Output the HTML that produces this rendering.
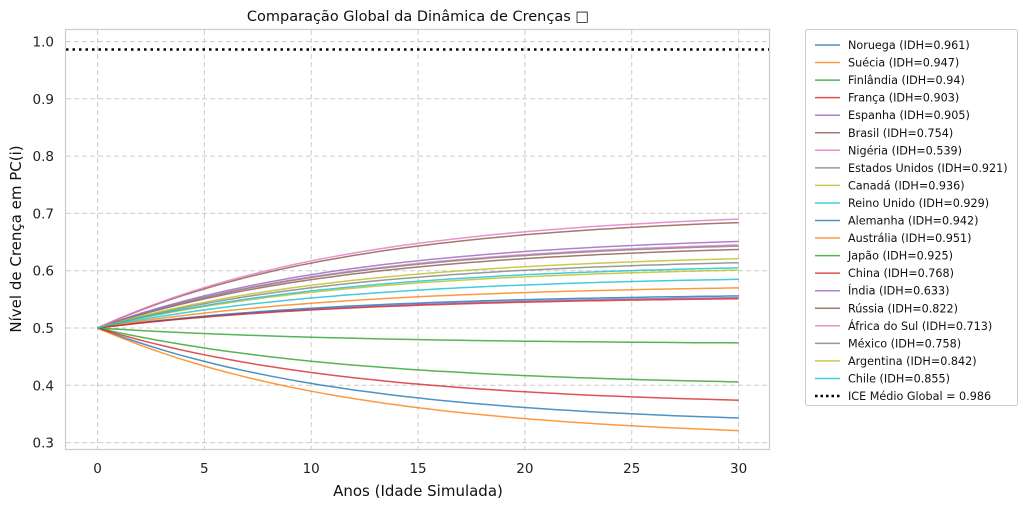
<!DOCTYPE html>
<html><head><meta charset="utf-8"><style>
body{margin:0;background:#fff;}
svg{display:block;font-family:"DejaVu Sans","Liberation Sans",sans-serif;}
</style></head><body>
<svg id="s" width="1023" height="506" viewBox="0 0 1023 506" xmlns="http://www.w3.org/2000/svg">
<rect width="1023" height="506" fill="#fff"/>
<g id="grid" stroke="#cccccc" stroke-dasharray="5,3" stroke-width="1"></g>
<g id="curves" fill="none" stroke-width="1.5"></g>
<line x1="66" x2="769" y1="49.5" y2="49.5" stroke="#000" stroke-width="2.5" stroke-dasharray="2.5,4"/>
<rect x="65.5" y="29.5" width="704" height="420" fill="none" stroke="#cccccc" stroke-width="1.2"/>
<g id="ticks" font-size="13.5" fill="#222"></g>
<text x="418" y="21" font-size="14.5" text-anchor="middle" fill="#111">Comparação Global da Dinâmica de Crenças □</text>
<text x="418" y="496" font-size="15" text-anchor="middle" fill="#111">Anos (Idade Simulada)</text>
<text transform="translate(21,239) rotate(-90)" font-size="15" text-anchor="middle" fill="#111">Nível de Crença em PC(i)</text>
<rect x="805.5" y="29.5" width="212" height="376" fill="#fff" stroke="#cccccc" rx="2"/>
<g id="leg" font-size="11.2" fill="#111"></g>
</svg>
<script>
const X=t=>97.5+t*21.37, Y=v=>41.5+(1-v)*573;
const g=document.getElementById('grid'),tk=document.getElementById('ticks');
let h='',k='';
for(let t=0;t<=30;t+=5){h+=`<line x1="${X(t)}" x2="${X(t)}" y1="30" y2="449"/>`;k+=`<text x="${X(t)}" y="473" text-anchor="middle">${t}</text>`;}
for(let i=3;i<=10;i++){const v=i/10;h+=`<line x1="66" x2="769" y1="${Y(v)}" y2="${Y(v)}"/>`;k+=`<text x="54" y="${Y(v)+5}" text-anchor="end">${v.toFixed(1)}</text>`;}
g.innerHTML=h;tk.innerHTML=k;
const C=['#1f77b4','#ff7f0e','#2ca02c','#d62728','#9467bd','#8c564b','#e377c2','#7f7f7f','#bcbd22','#17becf'];
const D=[['Noruega (IDH=0.961)',0.343],['Suécia (IDH=0.947)',0.321],['Finlândia (IDH=0.94)',0.406],['França (IDH=0.903)',0.374],['Espanha (IDH=0.905)',0.553],['Brasil (IDH=0.754)',0.637],['Nigéria (IDH=0.539)',0.645],['Estados Unidos (IDH=0.921)',0.643],['Canadá (IDH=0.936)',0.601],['Reino Unido (IDH=0.929)',0.585],['Alemanha (IDH=0.942)',0.556],['Austrália (IDH=0.951)',0.570],['Japão (IDH=0.925)',0.474],['China (IDH=0.768)',0.551],['Índia (IDH=0.633)',0.651],['Rússia (IDH=0.822)',0.684],['África do Sul (IDH=0.713)',0.690],['México (IDH=0.758)',0.614],['Argentina (IDH=0.842)',0.621],['Chile (IDH=0.855)',0.605]];
let p='',l='';const tau=12,n=1-Math.exp(-30/tau);
D.forEach((d,i)=>{const c=C[i%10];let pts=[];for(let t=0;t<=30;t+=0.5){const v=0.5+(d[1]-0.5)*(1-Math.exp(-t/tau))/n;pts.push(X(t).toFixed(1)+','+Y(v).toFixed(1));}
p+=`<polyline points="${pts.join(' ')}" stroke="${c}" stroke-opacity="0.8"/>`;
const y=45+i*17.55;l+=`<line x1="815" x2="840" y1="${y}" y2="${y}" stroke="${c}" stroke-opacity="0.8" stroke-width="1.5"/><text x="848" y="${y+4}">${d[0]}</text>`;});
const y=45+20*17.55;l+=`<line x1="815" x2="840" y1="${y}" y2="${y}" stroke="#000" stroke-width="2.5" stroke-dasharray="2.5,3"/><text x="848" y="${y+4}">ICE Médio Global = 0.986</text>`;
document.getElementById('curves').innerHTML=p;document.getElementById('leg').innerHTML=l;
</script>
</body></html>
